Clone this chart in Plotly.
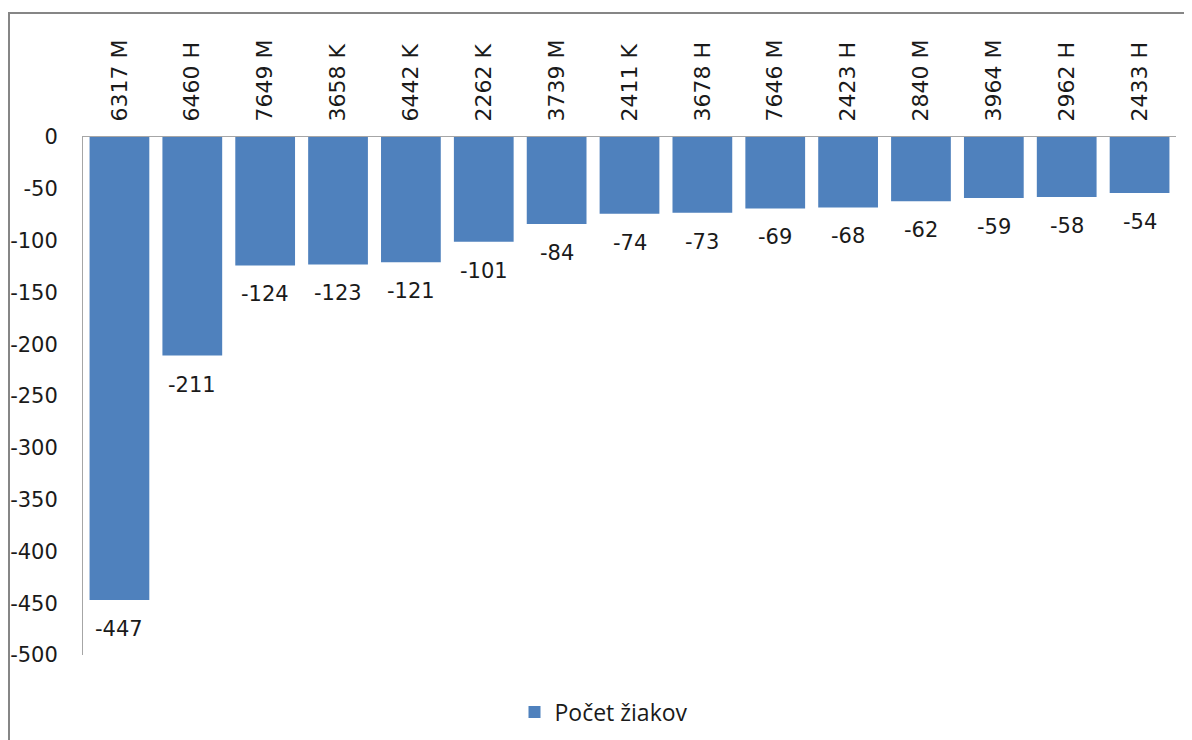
import plotly.graph_objects as go

categories = ["6317 M", "6460 H", "7649 M", "3658 K", "6442 K", "2262 K", "3739 M",
              "2411 K", "3678 H", "7646 M", "2423 H", "2840 M", "3964 M", "2962 H", "2433 H"]
values = [-447, -211, -124, -123, -121, -101, -84, -74, -73, -69, -68, -62, -59, -58, -54]
series_name = "Počet žiakov"
y_ticks = [0, -50, -100, -150, -200, -250, -300, -350, -400, -450, -500]

# the page body has a default 8px margin, so the figure starts at (8, 8) on screen
OFF = 8
W, H = 1192 - OFF, 740 - OFF
L, R, T, B = 83 - OFF, 16, 137 - OFF, 85
pw, ph = W - L - R, H - T - B

def px_x(x):  # screen pixel -> paper coordinate
    return (x - OFF - L) / pw

def px_y(y):
    return (H - B - (y - OFF)) / ph

fig = go.Figure()
fig.add_trace(go.Bar(
    x=categories, y=values, name=series_name,
    marker=dict(color="#4F81BD", line=dict(width=0)),
    cliponaxis=False, showlegend=True,
))

for c, v in zip(categories, values):
    fig.add_annotation(x=c, y=v, text=str(v), showarrow=False, yanchor="middle",
                       yshift=-29, font=dict(family="DejaVu Sans", size=21, color="#1a1a1a"))

fig.update_layout(
    template="none",
    width=W, height=H,
    margin=dict(l=L, r=R, t=T, b=B, autoexpand=False),
    paper_bgcolor="white", plot_bgcolor="white",
    bargap=0.18,
    font=dict(family="DejaVu Sans", size=20, color="#1a1a1a"),
    xaxis=dict(side="top", tickangle=-90, showline=True, linecolor="#A6A6A6", linewidth=1,
               ticks="", showgrid=False, zeroline=False, automargin=False,
               tickfont=dict(size=22), ticklabelstandoff=10),
    yaxis=dict(range=[-500, 0], tickvals=y_ticks, ticktext=[str(v) for v in y_ticks],
               showline=True, linecolor="#A6A6A6", linewidth=1, ticks="", showgrid=False,
               zeroline=False, automargin=False, tickfont=dict(size=21), ticklabelstandoff=20),
    legend=dict(orientation="h", x=px_x(604), xanchor="center", y=px_y(712), yanchor="middle",
                font=dict(family="Open Sans", size=23, color="#1a1a1a"), itemsizing="constant",
                bgcolor="rgba(0,0,0,0)"),
    shapes=[dict(type="rect", xref="paper", yref="paper",
                 x0=px_x(9), x1=px_x(1300), y0=px_y(900), y1=px_y(13),
                 line=dict(color="#868686", width=2), fillcolor="rgba(0,0,0,0)", layer="below")],
)

fig.write_html("out.html")
